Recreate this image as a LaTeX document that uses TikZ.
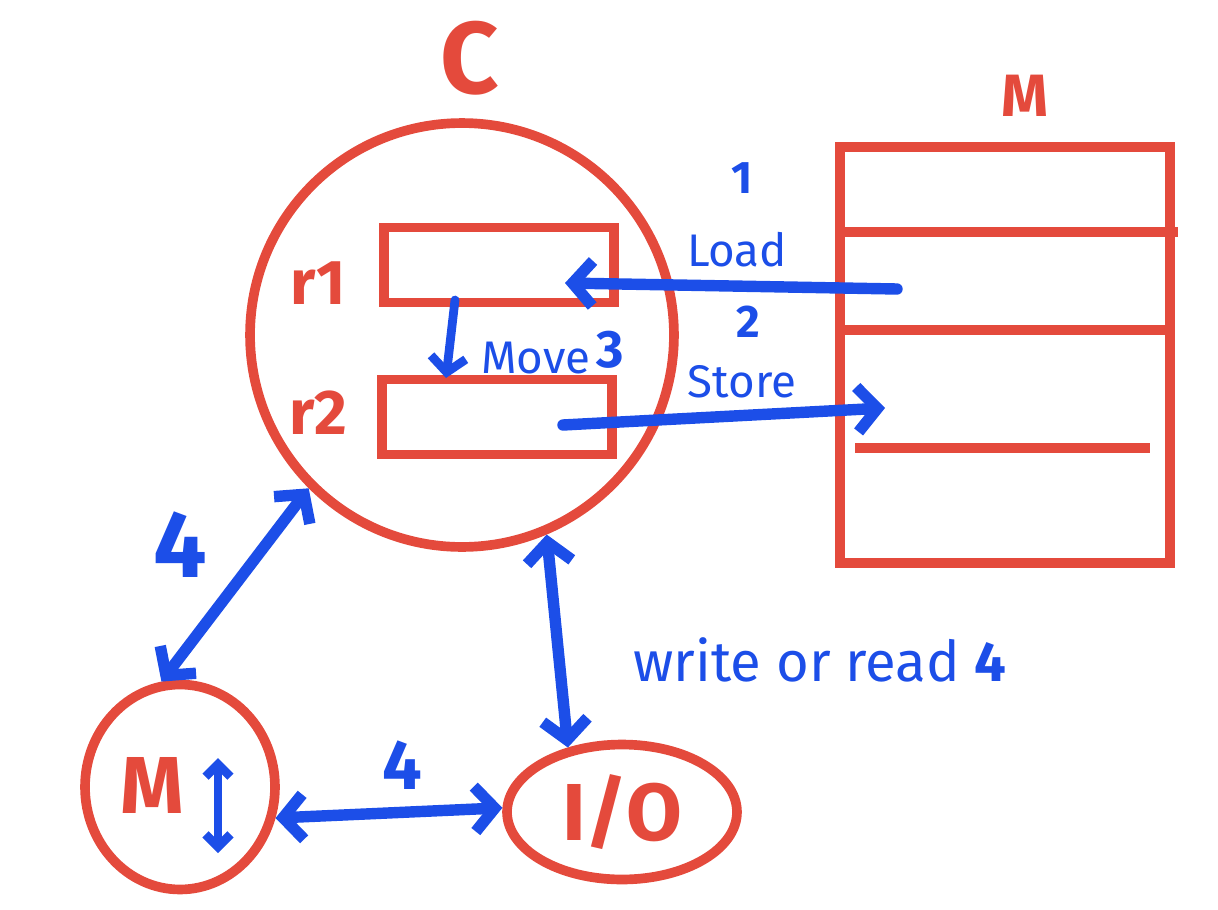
\documentclass[tikz,border=0pt]{standalone}
\usepackage{fontspec}
\setmainfont{Fira Sans}
\usetikzlibrary{arrows.meta,shapes.geometric}
\definecolor{penred}{RGB}{228,74,60}
\definecolor{penblue}{RGB}{28,78,232}
\begin{document}
\begin{tikzpicture}[x=0.02cm, y=-0.02cm,
    part/.style={draw=penred, line width=5.5pt, inner sep=0pt},
    reg/.style={part, rectangle, minimum width=4.6cm, minimum height=1.5cm},
    flow/.style={draw=penblue, line width=6.5pt, line cap=round},
    rlab/.style={text=penred, font=\bfseries\fontsize{36}{38}\selectfont},
    blab/.style={text=penblue, font=\fontsize{26}{28}\selectfont},
    bnum/.style={text=penblue, font=\bfseries\fontsize{40}{42}\selectfont},
    >={Straight Barb[length=4mm, width=9mm]}]
  \useasboundingbox (0,0) rectangle (1218,910);
  \node[part, circle, minimum size=8.48cm] (cpu) at (462,335) {};
  \node[reg] (r1) at (499,265) {};
  \node[reg] (r2) at (497,417) {};
  \node[part, rectangle, minimum width=6.6cm, minimum height=8.32cm] (mem) at (1005,355) {};
  \draw[part] (840,232) -- (1178,232);
  \draw[part] (835,330) -- (1170,330);
  \draw[part] (855,448) -- (1150,448);
  \node[part, ellipse, minimum width=3.8cm, minimum height=4.1cm] (aux) at (180,787) {};
  \node[part, ellipse, minimum width=4.6cm, minimum height=2.7cm, rlab, font=\bfseries\fontsize{46}{48}\selectfont] (io) at (622,812) {I/O};

  \node[rlab, font=\bfseries\fontsize{58}{60}\selectfont] (cpulab) at (470,58) {C};
  \node[rlab, font=\bfseries\fontsize{34}{36}\selectfont] (memlab) at (1025,96) {M};
  \node[rlab] (r1lab) at (318,283) {r1};
  \node[rlab] (r2lab) at (318,413) {r2};
  \node[rlab, font=\bfseries\fontsize{46}{48}\selectfont] (auxlab) at (152,785) {M};

  \coordinate (ldsrc) at (897,289);
  \coordinate (ldend) at (565,283);
  \coordinate (stsrc) at (563,425);
  \coordinate (stend) at (885,408);
  \coordinate (mvsrc) at (455,300);
  \coordinate (mvend) at (446,378);
  \coordinate (auxtop) at (218,758);
  \coordinate (auxbot) at (218,853);
  \draw[flow, ->] (ldsrc) -- (ldend);
  \draw[flow, ->] (stsrc) -- (stend);
  \draw[flow, ->, line width=5pt, >={Straight Barb[length=3mm, width=7mm]}] (mvsrc) -- (mvend);
  \draw[flow, <->] (cpu.225) -- (aux.100);
  \draw[flow, <->] (cpu.293) -- (io.130);
  \draw[flow, <->] (aux.-18) -- (io.178);
  \draw[flow, <->, line width=5pt, >={Straight Barb[length=2.5mm, width=5mm]}] (auxtop) -- (auxbot);

  \node[bnum, font=\bfseries\fontsize{26}{28}\selectfont] (ldnum) at (742,178) {1};
  \node[blab] (ldlab) at (737,250) {Load};
  \node[bnum, font=\bfseries\fontsize{26}{28}\selectfont] (stnum) at (748,322) {2};
  \node[blab] (stlab) at (742,382) {Store};
  \node[blab] (mvlab) at (536,358) {Move};
  \node[bnum, font=\bfseries\fontsize{30}{32}\selectfont] (mvnum) at (610,350) {3};
  \node[bnum, font=\bfseries\fontsize{54}{56}\selectfont] (cmnum) at (180,545) {4};
  \node[bnum] (ionum) at (402,765) {4};
  \node[blab, font=\fontsize{32}{34}\selectfont] (rwlab) at (820,660) {write or read \textbf{4}};
\end{tikzpicture}
\end{document}
